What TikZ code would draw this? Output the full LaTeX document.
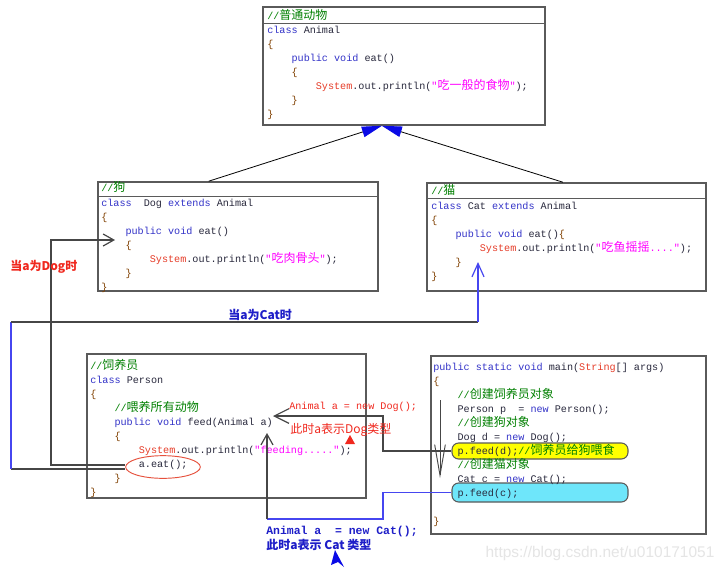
\documentclass[tikz,border=0pt]{standalone}
\usepackage{fontspec}
\newfontfamily\codefont{Liberation Mono}[Ligatures=TeXOff]
\newfontfamily\cjk{Noto Sans CJK SC}
\newfontfamily\wmfont{Liberation Sans}
\usetikzlibrary{arrows.meta,calc,fit,shapes.geometric}
\definecolor{kwblue}{RGB}{50,50,200}
\definecolor{cmgreen}{RGB}{0,128,0}
\definecolor{sysred}{RGB}{230,60,40}
\definecolor{strpink}{RGB}{255,0,255}
\definecolor{brbrown}{RGB}{128,64,0}
\definecolor{codedark}{RGB}{40,40,60}
\definecolor{boxgray}{RGB}{90,90,90}
\definecolor{linkgray}{RGB}{70,70,70}
\definecolor{linkblue}{RGB}{70,70,240}
\definecolor{labred}{RGB}{240,40,30}
\definecolor{labblue}{RGB}{30,30,200}
\definecolor{headblue}{RGB}{10,10,230}
\definecolor{hlyellow}{RGB}{255,255,0}
\definecolor{hlcyan}{RGB}{110,230,250}
\definecolor{ringred}{RGB}{230,80,60}
\newcommand{\zh}[1]{{\cjk\fontsize{9}{10.5}\selectfont #1}}
\newcommand{\kw}[1]{\textcolor{kwblue}{#1}}
\newcommand{\cmt}[1]{\textcolor{cmgreen}{#1}}
\newcommand{\sysw}[1]{\textcolor{sysred}{#1}}
\newcommand{\strg}[1]{\textcolor{strpink}{#1}}
\newcommand{\brc}[1]{\textcolor{brbrown}{#1}}
\newcommand{\ind}{\hspace*{2.4em}}

\begin{document}
\begin{tikzpicture}[
    x=0.75pt, y=-0.75pt,
    codebox/.style={draw=boxgray, line width=1.2pt, inner sep=0pt},
    headline/.style={draw=boxgray, line width=0.8pt},
    code/.style={font=\codefont\fontsize{7.6}{10.5}\selectfont, inner sep=0pt,
                 anchor=north west, align=left, text=codedark},
    hl/.style={draw=boxgray, line width=0.8pt, rounded corners=5pt, inner sep=0pt},
    eatring/.style={draw=ringred, line width=0.7pt, ellipse, minimum width=56pt,
                    minimum height=17pt, inner sep=0pt},
    inherit/.style={draw=black, line width=0.6pt,
                    -{Triangle[length=15pt,width=8pt,color=headblue]}},
    link/.style={draw=linkgray, line width=0.9pt},
    catlink/.style={draw=linkblue, line width=0.9pt},
    barb/.style={-{Straight Barb[length=8pt,width=9pt]}},
    whenlabel/.style={font=\cjk\bfseries\fontsize{9}{11}\selectfont, inner sep=0pt, anchor=west},
    note/.style={font=\cjk\fontsize{9}{11}\selectfont, inner sep=0pt, anchor=west}
]
\useasboundingbox (0,0) rectangle (724,571);
\fill[white] (0,0) rectangle (724,571);

% Boxes
\node[codebox, fit={(263,7) (545,125)}] (animal) {};
\node[codebox, fit={(98,182) (378,291)}] (dog) {};
\node[codebox, fit={(427,183) (706,291)}] (cat) {};
\node[codebox, fit={(87,354) (366,498)}] (person) {};
\node[codebox, fit={(431,356) (706,534)}] (main) {};

\draw[headline] ($(animal.north west)+(0,17)$) -- ($(animal.north east)+(0,17)$);
\draw[headline] ($(dog.north west)+(0,15)$) -- ($(dog.north east)+(0,15)$);
\draw[headline] ($(cat.north west)+(0,16)$) -- ($(cat.north east)+(0,16)$);

% Highlights
\node[hl, fill=hlyellow, fit={(452,443) (628,459)}] (feedd) {};
\node[hl, fill=hlcyan, fit={(452,483) (628,502)}] (feedc) {};
\node[eatring] (eatring) at (163,467) {};

% Animal
\node[code] (animalhead) at (267,9) {\strut\cmt{//\zh{普通动物}}};
\node[code] (animalbody) at (267,23) {\strut\kw{class} Animal\\
\brc{\{}\\
\ind\kw{public void} eat()\\
\ind\brc{\{}\\
\ind\ind\sysw{System}.out.println(\strg{"\zh{吃一般的食物}"});\\
\ind\brc{\}}\\
\brc{\}}};

% Dog
\node[code] (doghead) at (101,181) {\strut\cmt{//\zh{狗}}};
\node[code] (dogbody) at (101,196) {\strut\kw{class}~~Dog \kw{extends} Animal\\
\brc{\{}\\
\ind\kw{public void} eat()\\
\ind\brc{\{}\\
\ind\ind\sysw{System}.out.println(\strg{"\zh{吃肉骨头}"});\\
\ind\brc{\}}\\
\brc{\}}};

% Cat
\node[code] (cathead) at (431,184) {\strut\cmt{//\zh{猫}}};
\node[code] (catbody) at (431,199) {\strut\kw{class} Cat \kw{extends} Animal\\
\brc{\{}\\
\ind\kw{public void} eat()\brc{\{}\\
\ind\ind\sysw{System}.out.println(\strg{"\zh{吃鱼摇摇}...."});\\
\ind\brc{\}}\\
\brc{\}}};

% Person
\node[code] (personbody) at (90,359) {\strut\cmt{//\zh{饲养员}}\\
\kw{class} Person\\
\brc{\{}\\
\ind\cmt{//\zh{喂养所有动物}}\\
\ind\kw{public void} feed(Animal a)\\
\ind\brc{\{}\\
\ind\ind\sysw{System}.out.println(\strg{"feeding....."});\\
\ind\ind a.eat();\\
\ind\brc{\}}\\
\brc{\}}};

% main
\node[code] (mainbody) at (433,360) {\strut\kw{public static void} main(\sysw{String}[] args)\\
\brc{\{}\\
\ind\cmt{//\zh{创建饲养员对象}}\\
\ind Person p~~= \kw{new} Person();\\
\ind\cmt{//\zh{创建狗对象}}\\
\ind Dog d = \kw{new} Dog();\\
\ind p.feed(d);\cmt{//\zh{饲养员给狗喂食}}\\
\ind\cmt{//\zh{创建猫对象}}\\
\ind Cat c = \kw{new} Cat();\\
\ind p.feed(c);\\[10.5pt]
\brc{\}}};

% Inheritance
\coordinate (apex) at ($(animal.south west)!0.422!(animal.south east)$);
\coordinate (dogtop) at ($(dog.north west)!0.396!(dog.north east)$);
\coordinate (cattop) at ($(cat.north west)!0.487!(cat.north east)$);
\draw[inherit] (dogtop) -- (apex);
\draw[inherit] (cattop) -- (apex);

% When a is a Dog
\coordinate (dogturn) at (383,416);
\coordinate (feedparam) at (273,416);
\coordinate (dogbend) at (51,240);
\coordinate (dogeat) at (115,240);
\draw[link, -{Straight Barb[length=11pt,width=11pt]}] (feedd.west) -| (dogturn) -- (feedparam);
\draw[link, barb] ($(eatring.west)+(0,-2)$) -| (dogbend) -- (dogeat);

% When a is a Cat
\coordinate (catdrop) at (383,519);
\coordinate (catfloor) at (267,519);
\coordinate (catparam) at (267,433);
\draw[catlink] (feedc.west) -| (catdrop) -- (catfloor);
\draw[link, barb] (catfloor) -- (catparam);
\coordinate (catlow) at (11,469);
\coordinate (catbend) at (11,322);
\coordinate (catcorner) at (478,322);
\coordinate (cateat) at (478,262);
\draw[link] ($(eatring.west)+(0,2)$) -- (catlow);
\draw[catlink] (catlow) -- (catbend);
\draw[link] (catbend) -- (catcorner);
\draw[catlink, -{Straight Barb[length=10pt,width=9pt]}] (catcorner) -- (cateat);

% Flow in main
\coordinate (flowtop) at (440,400);
\coordinate (flowend) at (440,478);
\draw[link, line width=0.7pt, -{Straight Barb[length=23pt,width=8pt]}] (flowtop) -- (flowend);

% Labels
\node[whenlabel, text=labred] (dogwhen) at (10,267) {当a为Dog时};
\node[whenlabel, text=labblue] (catwhen) at (228,315) {当a为Cat时};
\node[code, anchor=west, text=labred] (dognew) at (289,407) {Animal a = new Dog();};
\node[note, text=labred] (dogmeans) at (290,430) {此时a表示Dog类型};
\fill[labred] (345,444) -- (350,435) -- (355,444) -- cycle;
\node[code, anchor=west, text=labblue, font=\codefont\bfseries\fontsize{8.6}{10}\selectfont]
    (catnew) at (266,532) {Animal a~~= new Cat();};
\node[whenlabel, text=labblue] (catmeans) at (266,545) {此时a表示 Cat 类型};
\fill[headblue] (335,550) -- (331,565) -- (338,562) -- (344,567) -- cycle;

\node[font=\wmfont\fontsize{11.6}{13}\selectfont, text=black!10, inner sep=0pt]
    (url) at (600,553) {https://blog.csdn.net/u010171051};

\end{tikzpicture}
\end{document}
